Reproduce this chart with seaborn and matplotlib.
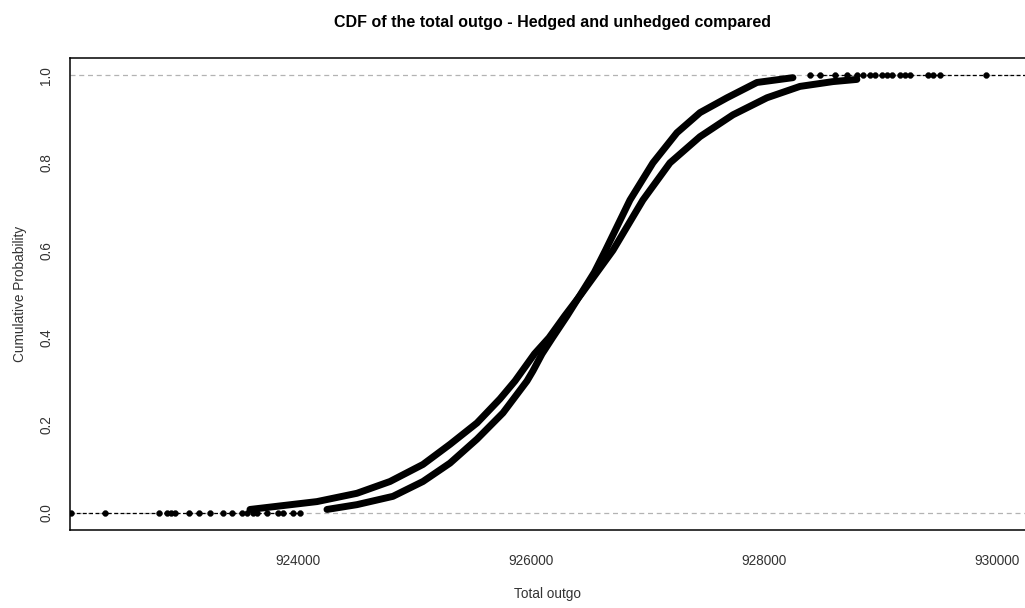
import matplotlib
matplotlib.use("Agg")
import matplotlib.pyplot as plt
import numpy as np
import pandas as pd
import seaborn as sns

# Empirical CDF of the total outgo, sampled along each curve
unhedged_outgo = [923588, 924163, 924506, 924790, 925073, 925305, 925537, 925734,
                  925863, 926030, 926155, 926290, 926432, 926568, 926704, 926961,
                  927193, 927451, 927734, 928026, 928309, 928592, 928798]
unhedged_prob = [0.007, 0.025, 0.044, 0.071, 0.110, 0.156, 0.205, 0.260,
                 0.301, 0.363, 0.400, 0.450, 0.500, 0.550, 0.600, 0.715,
                 0.800, 0.860, 0.910, 0.949, 0.975, 0.986, 0.991]

hedged_outgo = [924249, 924506, 924815, 925073, 925305, 925537, 925760, 925966,
                926017, 926095, 926185, 926310, 926428, 926545, 926640, 926850,
                927047, 927253, 927451, 927683, 927940, 928249]
hedged_prob = [0.007, 0.018, 0.037, 0.071, 0.113, 0.168, 0.228, 0.301,
               0.324, 0.363, 0.400, 0.450, 0.500, 0.550, 0.600, 0.715,
               0.800, 0.869, 0.915, 0.949, 0.984, 0.995]

# Isolated extreme observations in the lower and upper tails
low_tail_outgo = [922051, 922343, 922807, 922876, 922910, 922944, 923064, 923150,
                  923245, 923356, 923433, 923519, 923562, 923614, 923648, 923734,
                  923828, 923871, 923957, 924017]
low_tail_prob = [0.0] * len(low_tail_outgo)
high_tail_outgo = [928395, 928481, 928610, 928713, 928799, 928850, 928910, 928953,
                   929013, 929056, 929099, 929168, 929210, 929253, 929408, 929451,
                   929511, 929906]
high_tail_prob = [1.0] * len(high_tail_outgo)

x_ticks = [924000, 926000, 928000, 930000]
y_ticks = [0.0, 0.2, 0.4, 0.6, 0.8, 1.0]
x_limits = (922043, 930241)
y_limits = (-0.04, 1.04)

curves = pd.concat([
    pd.DataFrame({"outgo": unhedged_outgo, "prob": unhedged_prob, "series": "Unhedged"}),
    pd.DataFrame({"outgo": hedged_outgo, "prob": hedged_prob, "series": "Hedged"}),
], ignore_index=True)
tails = pd.DataFrame({
    "outgo": low_tail_outgo + high_tail_outgo,
    "prob": low_tail_prob + high_tail_prob,
})

sns.set_style("white")
plt.rcParams["font.family"] = ["Liberation Sans", "DejaVu Sans"]

fig = plt.figure(figsize=(10.25, 6.08), dpi=100)
ax = fig.add_axes([70 / 1025, 78 / 608, 955 / 1025, 472 / 608])

# reference lines at 0 and 1
for level in (0.0, 1.0):
    ax.axhline(level, color="#b3b3b3", lw=0.9, ls=(0, (4, 3)), zorder=1)

# step segments running out to the plot edges
ax.hlines(0.0, x_limits[0], max(low_tail_outgo), color="black", lw=0.9,
          ls=(0, (3, 2)), zorder=2)
ax.hlines(1.0, min(high_tail_outgo), x_limits[1], color="black", lw=0.9,
          ls=(0, (3, 2)), zorder=2)

sns.lineplot(data=curves, x="outgo", y="prob", hue="series", units="series",
             estimator=None, sort=False, palette=["black", "black"],
             linewidth=5.0, legend=False, ax=ax, zorder=3,
             solid_joinstyle="round", solid_capstyle="round")
sns.scatterplot(data=tails, x="outgo", y="prob", color="black", s=18,
                marker="o", edgecolor="black", linewidth=0.3, ax=ax, zorder=4)

ax.set_xlim(*x_limits)
ax.set_ylim(*y_limits)
ax.set_xticks(x_ticks)
ax.set_xticklabels([str(v) for v in x_ticks])
ax.set_yticks(y_ticks)
ax.set_yticklabels([f"{v:.1f}" for v in y_ticks], rotation=90, va="center")

ax.tick_params(axis="both", direction="out", length=7, width=0.9,
               color="#555555", labelcolor="#333333", labelsize=9.8)
ax.tick_params(axis="x", pad=10)
ax.tick_params(axis="y", pad=5)

for side in ("left", "top", "bottom"):
    ax.spines[side].set_color("black")
    ax.spines[side].set_linewidth(1.1)
ax.spines["right"].set_visible(False)

ax.set_xlabel("Total outgo", fontsize=9.8, color="#333333", labelpad=14)
ax.set_ylabel("Cumulative Probability", fontsize=9.8, color="#333333", labelpad=9)

fig.text(552 / 1025, 1 - 23 / 608, "CDF of the total outgo - Hedged and unhedged compared",
         ha="center", va="center", fontsize=11.5, fontweight="bold", color="black")

fig.savefig("out.png", dpi=100)
